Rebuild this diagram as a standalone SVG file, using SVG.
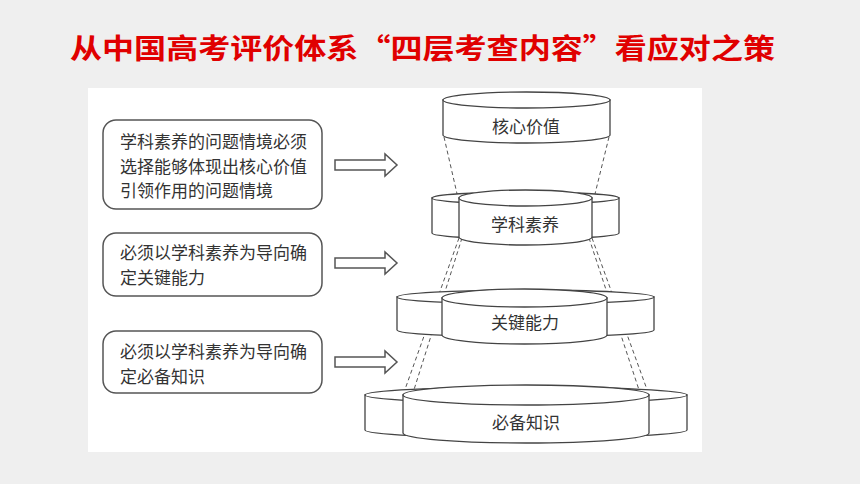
<svg xmlns="http://www.w3.org/2000/svg" width="860" height="484" viewBox="0 0 860 484">
<style>
.t{font-family:"Noto Sans CJK SC",sans-serif;fill:#333;font-size:17px}
.c{fill:#fff;stroke:#444;stroke-width:1.3}
.d{fill:none;stroke:#555;stroke-width:1;stroke-dasharray:4 3}
.b{fill:#fff;stroke:#555;stroke-width:1.5}
</style>
<rect width="860" height="484" fill="#efefef"/>
<text x="70" y="59" textLength="705" lengthAdjust="spacingAndGlyphs" style="font-family:'Noto Sans CJK SC',sans-serif;font-size:28px;font-weight:bold;fill:#e00000">从中国高考评价体系“四层考查内容”看应对之策</text>
<rect x="88" y="88" width="614" height="364" fill="#fff"/>
<g id="connectors">
<path class="d" d="M444,137 L458,198 M609,137 L594,198"/>
<path class="d" d="M459,238 L403,395 M462,238 L412,396 M592,238 L649,395 M589,238 L641,396"/>
<g class="b">
<path d="M335,160 H385 V154 L397,165 L385,176 V170 H335 Z"/>
<path d="M335,258 H385 V252 L397,263 L385,274 V268 H335 Z"/>
<path d="M335,357 H385 V351 L397,362 L385,373 V367 H335 Z"/>
</g>
</g>
<g id="box1"><rect class="b" x="103" y="120" width="219" height="89" rx="13"/>
<text class="t" x="120" y="148">学科素养的问题情境必须</text>
<text class="t" x="120" y="173">选择能够体现出核心价值</text>
<text class="t" x="120" y="197">引领作用的问题情境</text></g>
<g id="box2"><rect class="b" x="103" y="233" width="219" height="63" rx="13"/>
<text class="t" x="120" y="259">必须以学科素养为导向确</text>
<text class="t" x="120" y="284">定关键能力</text></g>
<g id="box3"><rect class="b" x="103" y="331" width="219" height="62" rx="13"/>
<text class="t" x="120" y="358">必须以学科素养为导向确</text>
<text class="t" x="120" y="383">定必备知识</text></g>
<g id="layer4">
<path class="c" d="M365,395 V430 A161,8 0 0 0 687,430 V395 Z"/><ellipse class="c" cx="526" cy="395" rx="161" ry="8"/>
<path class="c" d="M403,395 V433 A123,10 0 0 0 649,433 V395 Z"/><ellipse class="c" cx="526" cy="395" rx="123" ry="10"/>
<text class="t" x="526" y="429" text-anchor="middle">必备知识</text></g>
<g id="layer3">
<path class="c" d="M397,297 V330 A128.5,7 0 0 0 654,330 V297 Z"/><ellipse class="c" cx="525.5" cy="297" rx="128.5" ry="7"/>
<path class="c" d="M442,298 V335 A82.5,9 0 0 0 607,335 V298 Z"/><ellipse class="c" cx="524.5" cy="298" rx="82.5" ry="9"/>
<text class="t" x="525" y="329" text-anchor="middle">关键能力</text></g>
<g id="layer2">
<path class="c" d="M432,198 V233 A93.5,6 0 0 0 619,233 V198 Z"/><ellipse class="c" cx="525.5" cy="198" rx="93.5" ry="6"/>
<path class="c" d="M459,198 V237 A66.5,8 0 0 0 592,237 V198 Z"/><ellipse class="c" cx="525.5" cy="198" rx="66.5" ry="8"/>
<text class="t" x="525" y="231" text-anchor="middle">学科素养</text></g>
<g id="layer1">
<path class="c" d="M443,100 V135 A83.5,8 0 0 0 610,135 V100 Z"/><ellipse class="c" cx="526.5" cy="100" rx="83.5" ry="8"/>
<text class="t" x="526" y="133" text-anchor="middle">核心价值</text></g>
</svg>
